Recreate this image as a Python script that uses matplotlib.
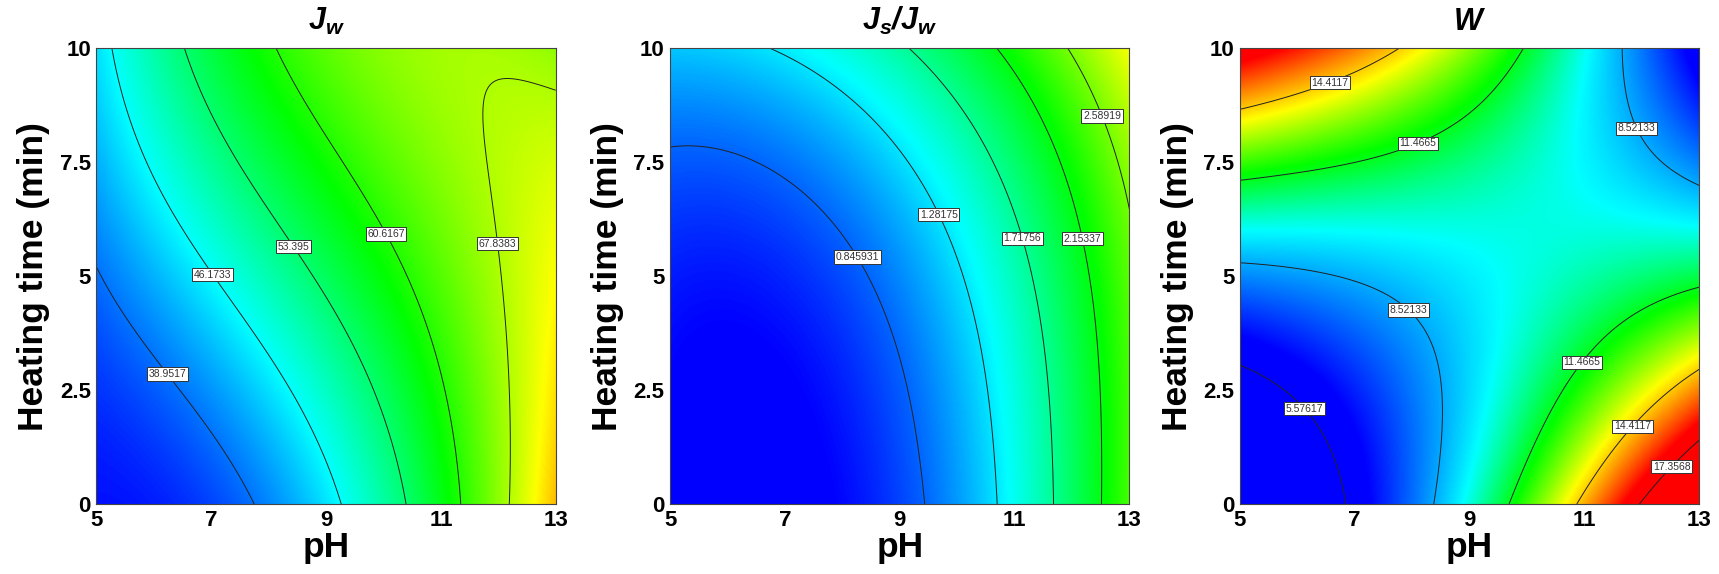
import matplotlib
matplotlib.use("Agg")
import matplotlib.pyplot as plt
import numpy as np
from matplotlib.colors import LinearSegmentedColormap, Normalize

plt.rcParams["font.family"] = "Liberation Sans"
plt.rcParams["mathtext.fontset"] = "custom"
plt.rcParams["mathtext.rm"] = "Liberation Sans"
plt.rcParams["mathtext.it"] = "Liberation Sans:italic"
plt.rcParams["mathtext.bf"] = "Liberation Sans:bold"
plt.rcParams["mathtext.bfit"] = "Liberation Sans:italic:bold"

# response-surface coefficients, coded A=(pH-9)/4, B=(t-5)/5
# order: b0, A, B, AB, A^2, B^2, A^3, A^2B, AB^2, B^3
jw_coef = [54.3917, 17.4461, 10.8187, -4.9231, 0.8906, -0.2613, -0.8471, -9.0725, -0.7839, -1.3969]
js_coef = [0.9695, 0.9738, 0.4213, -0.0245, 0.5766, 0.2343, -0.0234, -0.1543, -0.0012, 0.0536]
w_coef = [9.4090, 1.7154, 1.4812, -7.2418, 0.1920, 1.9479, -0.2081, -1.5159, 0.0009, -0.0005]

jw_levels = [38.9517, 46.1733, 53.395, 60.6167, 67.8383]
js_levels = [0.845931, 1.28175, 1.71756, 2.15337, 2.58919]
w_levels = [5.57617, 8.52133, 11.4665, 14.4117, 17.3568]

# values where the colours blue, cyan, green, yellow, red sit
jw_stops = [33, 46, 59, 72, 85]
js_stops = [0.5, 1.36, 2.2, 3.05, 3.9]
w_stops = [6.3, 9.6, 11.7, 13.9, 16.6]

# label spots (pH, time)
jw_lab = [(6.2, 2.82), (6.99, 5.0), (8.52, 5.72), (10.11, 5.97), (12.04, 5.72)]
js_lab = [(8.25, 5.41), (9.68, 6.35), (11.14, 5.83), (12.2, 5.83), (12.53, 8.52)]
w_lab = [(6.16, 2.13), (7.93, 4.25), (11.93, 8.25), (8.08, 7.96), (10.94, 3.12),
         (6.55, 9.29), (11.8, 1.75), (12.47, 0.88)]

titles = [r"$\mathbfit{J}_{\mathbfit{w}}$",
          r"$\mathbfit{J}_{\mathbfit{s}}\mathbfit{/J}_{\mathbfit{w}}$",
          r"$\mathbfit{W}$"]

ph = np.linspace(5, 13, 400)
t = np.linspace(0, 10, 400)
PH, T = np.meshgrid(ph, t)
A = (PH - 9) / 4
B = (T - 5) / 5
terms = [np.ones_like(A), A, B, A*B, A**2, B**2, A**3, A**2*B, A*B**2, B**3]

fig = plt.figure(figsize=(17.19, 5.74), dpi=100)
lefts = [0.0561, 0.3898, 0.7213]
colors = ["#0000ff", "#00ffff", "#00ff00", "#ffff00", "#ff0000"]

panels = [(jw_coef, jw_levels, jw_stops, jw_lab),
          (js_coef, js_levels, js_stops, js_lab),
          (w_coef, w_levels, w_stops, w_lab)]

for i, (c, lev, st, lab) in enumerate(panels):
    ax = fig.add_axes([lefts[i], 0.122, 0.2672, 0.794])
    Z = sum(k * term for k, term in zip(c, terms))
    pos = [(s - st[0]) / (st[-1] - st[0]) for s in st]
    cmap = LinearSegmentedColormap.from_list("de", list(zip(pos, colors)))
    ax.imshow(Z, extent=[5, 13, 0, 10], origin="lower", aspect="auto",
              cmap=cmap, norm=Normalize(st[0], st[-1]), interpolation="bilinear")
    cs = ax.contour(PH, T, Z, levels=lev, colors="#222222", linewidths=0.7)
    txts = ax.clabel(cs, fmt="%g", inline=False, manual=lab, fontsize=7.5)
    for tx in txts:
        tx.set_rotation(0)
        tx.set_color("#333333")
        tx.set_bbox(dict(facecolor="white", edgecolor="#333333", linewidth=0.7, pad=1.2))
        tx.set_zorder(5)
    ax.set_xlim(5, 13)
    ax.set_ylim(0, 10)
    ax.set_xticks([5, 7, 9, 11, 13])
    ax.set_yticks([0, 2.5, 5, 7.5, 10])
    ax.set_yticklabels(["0", "2.5", "5", "7.5", "10"])
    ax.tick_params(length=0, labelsize=16, pad=4)
    for lb in ax.get_xticklabels() + ax.get_yticklabels():
        lb.set_fontweight("bold")
    ax.set_xlabel("pH", fontsize=25.5, fontweight="bold", labelpad=0)
    ax.set_ylabel("Heating time (min)", fontsize=25.5, fontweight="bold", labelpad=7)
    ax.set_title(titles[i], fontsize=22, pad=13)
    for sp in ax.spines.values():
        sp.set_linewidth(0.8)
        sp.set_color("#444444")

fig.savefig("out.png", dpi=100)
